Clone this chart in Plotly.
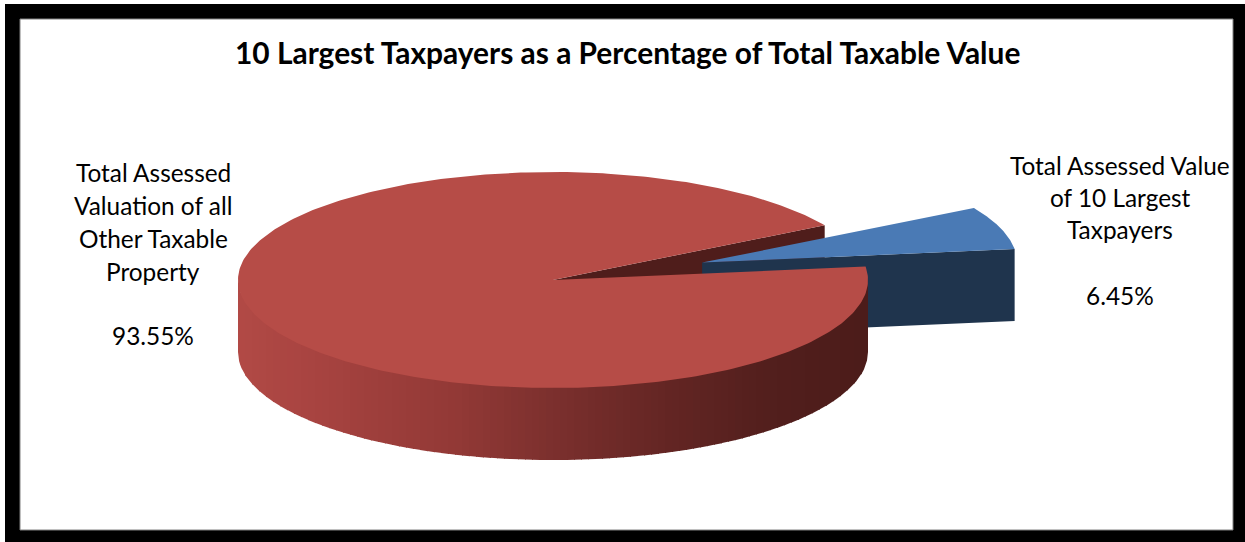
import numpy as np
import plotly.graph_objects as go

# Chart content
title_text = "10 Largest Taxpayers as a Percentage of Total Taxable Value"
other_label_lines = ["Total Assessed", "Valuation of all", "Other Taxable", "Property"]
largest_label_lines = ["Total Assessed Value", "of 10 Largest", "Taxpayers"]
other_share = 93.55
largest_share = 6.45

# Pie geometry on a canvas measured in pixels
WIDTH, HEIGHT = 1245, 542
CX, CY = 553.0, 280.0
RX, RY = 315.0, 108.0
DEPTH = 72.0
START_ANGLE = 30.4      # degrees, where the large slice begins (counter-clockwise)
EXPLODE = 0.5

RED_TOP = "#B64C47"
RED_DARK = "#4F1D1B"
BLUE_TOP = "#4A7AB5"
BLUE_WALL = "#1F344D"

# Shading of the rim from its left end to its right end
SHADE_POS = [0.0, 0.12, 0.35, 0.5, 0.68, 0.85, 1.0]
SHADE_RGB = [(178, 74, 70), (168, 68, 65), (146, 57, 54), (124, 48, 46),
             (100, 38, 36), (82, 31, 29), (76, 28, 26)]


def ellipse_point(cx, cy, deg):
    a = np.radians(deg)
    return cx + RX * np.cos(a), cy - RY * np.sin(a)


def wedge(cx, cy, a0, a1):
    t = np.linspace(a0, a1, 361)
    x, y = ellipse_point(cx, cy, t)
    return np.r_[cx, x, cx], np.r_[cy, y, cy]


def poly(x, y, color):
    return go.Scatter(x=x, y=y, mode="lines", fill="toself", fillcolor=color,
                      line=dict(width=0, color=color), hoverinfo="skip",
                      showlegend=False)


total = other_share + largest_share
other_sweep = other_share / total * 360.0
largest_sweep = largest_share / total * 360.0

other_start = START_ANGLE
other_end = other_start + other_sweep
largest_start = other_end - 360.0
largest_end = largest_start + largest_sweep
mid = np.radians((largest_start + largest_end) / 2)
blue_cx = CX + EXPLODE * RX * np.cos(mid)
blue_cy = CY - EXPLODE * RY * np.sin(mid)

traces = []

# Inner face of the large slice, seen through the gap
ux, uy = ellipse_point(CX, CY, other_start)
traces.append(poly([CX, ux, ux, CX, CX], [CY, uy, uy + DEPTH, CY + DEPTH, CY], RED_DARK))

# Cut face of the pulled-out slice
lx, ly = ellipse_point(blue_cx, blue_cy, largest_start)
traces.append(poly([blue_cx, lx, lx, blue_cx, blue_cx],
                   [blue_cy, ly, ly + DEPTH, blue_cy + DEPTH, blue_cy], BLUE_WALL))

# Top of the pulled-out slice
traces.append(poly(*wedge(blue_cx, blue_cy, largest_start, largest_end), BLUE_TOP))

# Rim of the large slice as vertical shaded bands
edges = np.linspace(CX - RX, CX + RX, 91)
for left, right in zip(edges[:-1], edges[1:]):
    xs = np.linspace(left, min(right + 1.0, CX + RX), 8)
    u = np.clip((xs - CX) / RX, -1, 1)
    top = CY + RY * np.sqrt(1 - u ** 2)
    f = ((left + right) / 2 - (CX - RX)) / (2 * RX)
    rgb = [int(np.interp(f, SHADE_POS, [c[i] for c in SHADE_RGB])) for i in range(3)]
    traces.append(poly(np.r_[xs, xs[::-1]], np.r_[top - 2, (top + DEPTH)[::-1]],
                       f"rgb({rgb[0]},{rgb[1]},{rgb[2]})"))

# Top of the large slice
traces.append(poly(*wedge(CX, CY, other_start, other_end), RED_TOP))

fig = go.Figure(traces)

FONT = "Lato, Carlito, Calibri, sans-serif"


def label(x, y, text, size=24.4, bold=False):
    return dict(x=x, y=y, xref="x", yref="y", text=f"<b>{text}</b>" if bold else text,
                showarrow=False, xanchor="center", yanchor="middle",
                font=dict(family=FONT, size=size, color="#000000"))


annotations = [label(627, 52, title_text, size=29.9, bold=True)]
for line, y in zip(other_label_lines, [172, 205, 238, 271]):
    annotations.append(label(153, y, line))
annotations.append(label(153, 335, f"{other_share:.2f}%"))
for line, y in zip(largest_label_lines, [165, 197, 229]):
    annotations.append(label(1120, y, line))
annotations.append(label(1120, 295, f"{largest_share:.2f}%"))

fig.update_layout(
    width=WIDTH, height=HEIGHT,
    margin=dict(l=0, r=0, t=0, b=0),
    paper_bgcolor="white", plot_bgcolor="white",
    xaxis=dict(range=[0, WIDTH], visible=False, fixedrange=True),
    yaxis=dict(range=[HEIGHT, 0], visible=False, fixedrange=True),
    annotations=annotations,
    shapes=[
        dict(type="rect", layer="below", x0=5, y0=4, x1=WIDTH + 5, y1=HEIGHT + 5,
             fillcolor="black", line=dict(width=0)),
        dict(type="rect", layer="below", x0=20, y0=19, x1=1233, y1=530,
             fillcolor="white", line=dict(width=1, color="#808080")),
    ],
)
fig.write_html("out.html", config=dict(displayModeBar=False))
